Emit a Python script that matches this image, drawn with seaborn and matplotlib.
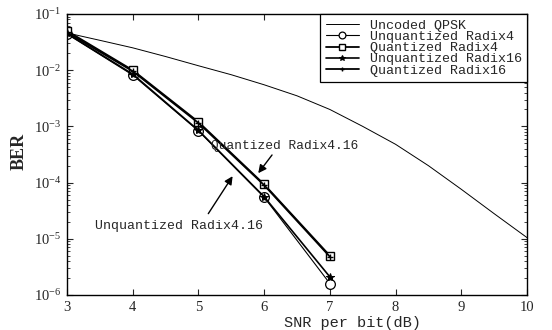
import numpy as np
import pandas as pd
import matplotlib
matplotlib.use('Agg')
import matplotlib.pyplot as plt
import seaborn as sns

# ==========================================
# DATA
# ==========================================

snr_uncoded = [3.0, 3.5, 4.0, 4.5, 5.0, 5.5, 6.0, 6.5, 7.0, 7.5, 8.0, 8.5, 9.0, 9.5, 10.0]
ber_uncoded = [4.6e-2, 3.4e-2, 2.5e-2, 1.75e-2, 1.2e-2, 8.3e-3, 5.5e-3, 3.5e-3,
               2.0e-3, 1.0e-3, 4.8e-4, 2.0e-4, 7.6e-5, 2.8e-5, 1.05e-5]

snr_coded = [3, 4, 5, 6, 7]
ber_unq_r4 = [4.4e-2, 8.2e-3, 8.3e-4, 5.5e-5, 1.6e-6]
ber_q_r4 = [5.0e-2, 1.0e-2, 1.2e-3, 9.3e-5, 5.0e-6]
ber_unq_r16 = [4.5e-2, 8.5e-3, 8.5e-4, 5.6e-5, 2.1e-6]
ber_q_r16 = [4.7e-2, 9.6e-3, 1.15e-3, 9.0e-5, 4.8e-6]

labels = ['Uncoded QPSK', 'Unquantized Radix4', 'Quantized Radix4',
          'Unquantized Radix16', 'Quantized Radix16']

# ==========================================
# PLOT
# ==========================================

sns.set_style('ticks')
plt.rcParams['font.family'] = ['Liberation Serif', 'DejaVu Serif']
plt.rcParams['mathtext.fontset'] = 'stix'

fig = plt.figure(figsize=(5.52, 3.30), dpi=100)
ax = fig.add_axes([0.1214, 0.1061, 0.8333, 0.8515])

sns.lineplot(x=snr_uncoded, y=ber_uncoded, ax=ax, color='black', lw=0.7,
             label=labels[0])
sns.lineplot(x=snr_coded, y=ber_unq_r4, ax=ax, color='black', lw=0.8,
             marker='o', markersize=7, markerfacecolor='white',
             markeredgecolor='black', markeredgewidth=0.9, label=labels[1])
sns.lineplot(x=snr_coded, y=ber_q_r4, ax=ax, color='black', lw=1.3,
             marker='s', markersize=6, markerfacecolor='white',
             markeredgecolor='black', markeredgewidth=1.0, label=labels[2])
sns.lineplot(x=snr_coded, y=ber_unq_r16, ax=ax, color='black', lw=1.2,
             marker='*', markersize=6, markeredgecolor='black', label=labels[3])
sns.lineplot(x=snr_coded, y=ber_q_r16, ax=ax, color='black', lw=1.3,
             marker='+', markersize=5, markeredgecolor='black',
             markeredgewidth=1.0, label=labels[4])

ax.set_yscale('log')
ax.set_xlim(3, 10)
ax.set_ylim(1e-6, 1e-1)
ax.set_xticks(range(3, 11))

ax.tick_params(which='both', direction='in', top=True, right=True,
               labelsize=10.5, pad=4)
ax.tick_params(which='major', length=4)
ax.tick_params(which='minor', length=2)
for s in ax.spines.values():
    s.set_linewidth(1.0)
    s.set_color('black')

ax.set_xlabel('SNR per bit(dB)', family='Liberation Mono', fontsize=11)
ax.xaxis.set_label_coords(0.62, -0.075)
ax.set_ylabel('BER', fontsize=13, fontweight='bold')
ax.yaxis.set_label_coords(-0.085, 0.51)

# anotações
ax.text(5.19, 4.0e-4, 'Quantized Radix4.16', family='Liberation Mono',
        fontsize=9.3, va='baseline')
ax.annotate('', xy=(5.91, 1.47e-4), xytext=(6.12, 3.1e-4),
            arrowprops=dict(arrowstyle='-|>', color='black', lw=1.0,
                            mutation_scale=12, shrinkA=0, shrinkB=0))
ax.text(3.43, 1.5e-5, 'Unquantized Radix4.16', family='Liberation Mono',
        fontsize=9.5, va='baseline')
ax.annotate('', xy=(5.52, 1.3e-4), xytext=(5.15, 2.8e-5),
            arrowprops=dict(arrowstyle='-|>', color='black', lw=1.0,
                            mutation_scale=12, shrinkA=0, shrinkB=0))

leg = ax.legend(loc='upper right', prop={'family': 'Liberation Mono', 'size': 9.6},
                frameon=True, fancybox=False, edgecolor='black',
                borderaxespad=0.0, handlelength=2.5, labelspacing=-0.08,
                borderpad=0.4, handletextpad=0.8, framealpha=1,
                markerscale=0.7)
leg.get_frame().set_linewidth(0.9)

plt.savefig('out.png', dpi=100)
